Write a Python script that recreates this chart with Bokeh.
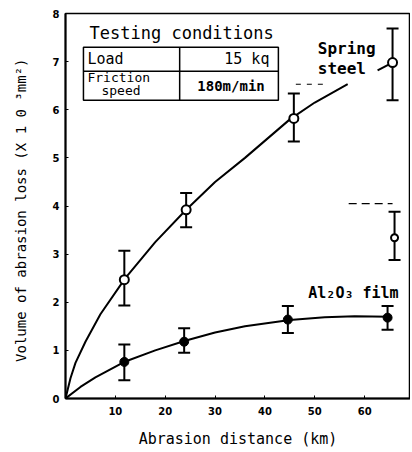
from bokeh.plotting import figure
from bokeh.models import Whisker, ColumnDataSource, TeeHead, Range1d, FixedTicker
from bokeh.core.properties import value
from bokeh.embed import file_html
from bokeh.resources import INLINE

# ---- data ----
steel_x = [11.8, 24.2, 45.8, 65.6]
steel_y = [2.47, 3.92, 5.82, 6.98]
steel_lo = [1.93, 3.56, 5.34, 6.20]
steel_hi = [3.07, 4.27, 6.34, 7.69]

steel2_x = [66.0]
steel2_y = [3.34]
steel2_lo = [2.88]
steel2_hi = [3.88]

film_x = [11.8, 23.8, 44.6, 64.6]
film_y = [0.76, 1.18, 1.64, 1.68]
film_lo = [0.38, 0.95, 1.36, 1.43]
film_hi = [1.12, 1.46, 1.92, 1.92]

steel_curve_x = [0, 1, 2, 4, 7, 12, 18, 24, 30, 36, 45, 50, 56.6]
steel_curve_y = [0, 0.42, 0.74, 1.18, 1.75, 2.5, 3.25, 3.9, 4.5, 5.0, 5.8, 6.15, 6.53]

film_curve_x = [0, 3, 6, 12, 18, 24, 30, 36, 45, 52, 58, 65]
film_curve_y = [0, 0.24, 0.44, 0.77, 1.0, 1.2, 1.37, 1.5, 1.63, 1.69, 1.71, 1.7]

steel_stub_x = [62.6, 65.2]
steel_stub_y = [6.82, 6.96]

dash1_x = [46.2, 51.8]
dash1_y = [6.53, 6.53]
dash2_x = [56.8, 65.6]
dash2_y = [4.05, 4.05]

x_ticks = [10, 20, 30, 40, 50, 60, 70]
y_ticks = [0, 1, 2, 3, 4, 5, 6, 7, 8]

MONO = "DejaVu Sans Mono"

p = figure(width=410, height=450, output_backend="svg", toolbar_location=None,
           x_range=Range1d(0, 69.2), y_range=Range1d(0, 8),
           min_border_left=65, min_border_right=0, min_border_top=13, min_border_bottom=51)
p.grid.visible = False
p.outline_line_color = "black"
p.outline_line_width = 1.5
p.background_fill_color = "white"
p.border_fill_color = "white"

for ax in (p.xaxis[0], p.yaxis[0]):
    ax.axis_line_width = 2
    ax.axis_line_color = "black"
    ax.major_tick_in = 3
    ax.major_tick_out = 0
    ax.minor_tick_line_color = None
    ax.major_label_text_font = "DejaVu Sans"
    ax.major_label_text_font_style = "bold"
    ax.major_label_text_font_size = "10px"
    ax.major_label_text_color = "black"
    ax.axis_label_text_font = MONO
    ax.axis_label_text_font_style = "normal"
    ax.axis_label_text_color = "black"

p.xaxis.axis_label_text_font_size = "15px"
p.yaxis.axis_label_text_font_size = "14px"
p.xaxis.ticker = FixedTicker(ticks=x_ticks)
p.yaxis.ticker = FixedTicker(ticks=y_ticks)
p.xaxis.major_label_standoff = 8
p.yaxis.major_label_standoff = 6
p.xaxis.axis_label = "Abrasion distance (km)"
p.xaxis.axis_label_standoff = 12
p.yaxis.axis_label = "Volume of abrasion loss (X 1 0  \u00b3mm\u00b2)"
p.yaxis.axis_label_standoff = 21

# curves
p.line(steel_curve_x, steel_curve_y, line_color="black", line_width=2)
p.line(film_curve_x, film_curve_y, line_color="black", line_width=2)
p.line(steel_stub_x, steel_stub_y, line_color="black", line_width=2)
p.line(dash1_x, dash1_y, line_color="black", line_width=1.2, line_dash="5 6")
p.line(dash2_x, dash2_y, line_color="black", line_width=1.2, line_dash="8 5")

# error bars
for xs, lo, hi in ((steel_x, steel_lo, steel_hi), (steel2_x, steel2_lo, steel2_hi), (film_x, film_lo, film_hi)):
    src = ColumnDataSource(dict(x=xs, lo=lo, hi=hi))
    w = Whisker(source=src, base="x", upper="hi", lower="lo", dimension="height",
                line_width=2, line_color="black",
                upper_head=TeeHead(size=12, line_width=2, line_color="black"),
                lower_head=TeeHead(size=12, line_width=2, line_color="black"))
    p.add_layout(w)

# markers
p.scatter(steel_x, steel_y, marker="circle", size=9, fill_color="white", line_color="black", line_width=2)
p.scatter(steel2_x, steel2_y, marker="circle", size=7, fill_color="white", line_color="black", line_width=2)
p.scatter(film_x, film_y, marker="circle", size=9, fill_color="black", line_color="black")

# testing conditions table
p.quad(left=[3.6], right=[42.7], top=[7.3], bottom=[6.2], fill_color=None, line_color="black", line_width=1.5)
p.segment(x0=[3.6, 22.9], y0=[6.8, 7.3], x1=[42.7, 22.9], y1=[6.8, 6.2], line_color="black", line_width=1.5)

def txt(x, y, s, size="14px", align="left", style="normal"):
    p.text(x=[x], y=[y], text=[s], text_font=value(MONO), text_font_size=size,
           text_align=align, text_baseline="middle", text_font_style=style, text_color="black")

txt(23.3, 7.6, "Testing conditions", size="17px", align="center")
txt(4.4, 7.05, "Load", size="15px")
txt(40.9, 7.05, "15 kq", size="15px", align="right")
txt(4.4, 6.67, "Friction", size="13px")
txt(7.2, 6.4, "speed", size="13px")
txt(33.2, 6.5, "180m/min", size="14px", align="center", style="bold")

txt(50.6, 7.27, "Spring", size="16px", style="bold")
txt(50.6, 6.86, "steel", size="16px", style="bold")
txt(48.7, 2.2, "Al\u2082O\u2083 film", size="15px", style="bold")

open("out.html", "w").write(file_html(p, INLINE))
